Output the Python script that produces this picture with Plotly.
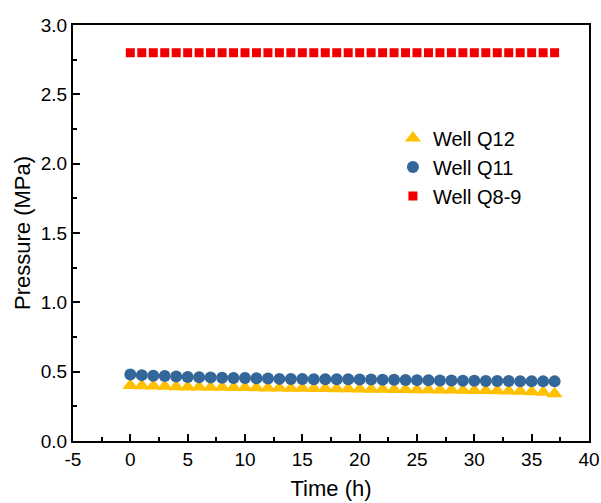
import plotly.graph_objects as go

time_h = list(range(0, 38))
q12 = [0.400, 0.398, 0.396, 0.394, 0.392, 0.390, 0.389, 0.388, 0.387, 0.386,
       0.385, 0.384, 0.383, 0.382, 0.381, 0.380, 0.379, 0.378, 0.377, 0.376,
       0.375, 0.374, 0.373, 0.372, 0.371, 0.370, 0.369, 0.368, 0.367, 0.366,
       0.365, 0.364, 0.362, 0.360, 0.358, 0.356, 0.352, 0.340]
q11 = [0.480, 0.475, 0.470, 0.468, 0.465, 0.462, 0.460, 0.458, 0.456, 0.455,
       0.454, 0.452, 0.450, 0.448, 0.447, 0.447, 0.446, 0.446, 0.445, 0.445,
       0.444, 0.443, 0.442, 0.441, 0.440, 0.439, 0.438, 0.437, 0.436, 0.435,
       0.434, 0.433, 0.432, 0.432, 0.431, 0.431, 0.430, 0.430]
q89 = [2.8] * 38

x_ticks = [-5, 0, 5, 10, 15, 20, 25, 30, 35, 40]
x_ticktext = ["-5", "0", "5", "10", "15", "20", "25", "30", "35", "40"]
y_ticks = [0.0, 0.5, 1.0, 1.5, 2.0, 2.5, 3.0]

fig = go.Figure()
fig.add_trace(go.Scatter(x=time_h, y=q12, mode="markers", name="Well Q12",
                         marker=dict(symbol="triangle-up", size=14, color="#FFC000")))
fig.add_trace(go.Scatter(x=time_h, y=q11, mode="markers", name="Well Q11",
                         marker=dict(symbol="circle", size=12, color="#336699")))
fig.add_trace(go.Scatter(x=time_h, y=q89, mode="markers", name="Well Q8-9",
                         marker=dict(symbol="square", size=9, color="#F00000")))

font = "Liberation Sans, Arial, sans-serif"
axis_common = dict(showline=True, linecolor="black", linewidth=2, mirror=True,
                   ticks="inside", ticklen=7, tickwidth=2, tickcolor="black",
                   showgrid=False, zeroline=False, automargin=False,
                   tickfont=dict(family=font, size=19, color="black"))

fig.update_layout(
    width=601, height=503,
    margin=dict(l=73, r=12, t=25, b=62),
    plot_bgcolor="white", paper_bgcolor="white",
    showlegend=True,
    legend=dict(x=0.62, y=0.775, xanchor="left", yanchor="top",
                font=dict(family=font, size=20, color="black"),
                bgcolor="rgba(0,0,0,0)", tracegroupgap=0),
    xaxis=dict(range=[-5, 40], tickmode="array", tickvals=x_ticks, ticktext=x_ticktext,
               minor=dict(tickmode="linear", tick0=-2.5, dtick=5, ticks="inside",
                          ticklen=4, tickwidth=2, tickcolor="black"),
               title=dict(text="Time (h)", font=dict(family=font, size=22, color="black"), standoff=12),
               **axis_common),
    yaxis=dict(range=[0, 3.0], tickmode="array", tickvals=y_ticks, tickformat=".1f",
               minor=dict(tickmode="linear", tick0=0.25, dtick=0.5, ticks="inside",
                          ticklen=4, tickwidth=2, tickcolor="black"),
               title=dict(text="Pressure (MPa)", font=dict(family=font, size=22, color="black"), standoff=4),
               **axis_common),
)
fig.write_html("out.html", config={"displayModeBar": False},
               post_script="document.body.style.margin='0';")
